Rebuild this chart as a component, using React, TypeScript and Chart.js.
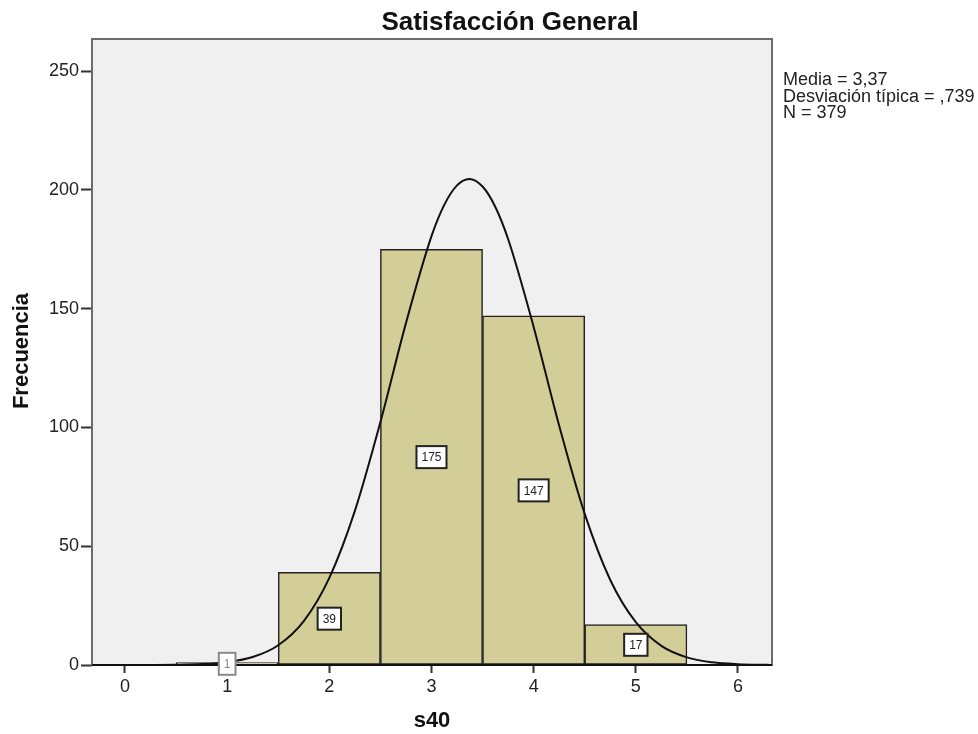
import { useEffect, useRef } from 'react';
import { Chart, registerables } from 'chart.js';

Chart.register(...registerables);

const binCenters = [1, 2, 3, 4, 5];
const frequencies = [1, 39, 175, 147, 17];
const curveX = [-0.3, 0, 0.25, 0.5, 0.75, 1, 1.25, 1.5, 1.75, 2, 2.25, 2.5, 2.75, 3, 3.125, 3.25, 3.37, 3.5, 3.625, 3.75, 4, 4.25, 4.5, 4.75, 5, 5.25, 5.5, 5.75, 6, 6.25, 6.3];
const curveY = [0, 0.01, 0.03, 0.11, 0.38, 1.19, 3.34, 8.32, 18.5, 36.7, 64.9, 102.3, 143.9, 180.5, 193.7, 201.9, 204.6, 201.4, 192.8, 179.3, 142.3, 100.7, 63.6, 35.8, 18.0, 8.04, 3.21, 1.14, 0.36, 0.1, 0.08];
const yTickStep = 50;
const xTickStep = 1;
const titleText = 'Satisfacción General';
const xTitle = 's40';
const yTitle = 'Frecuencia';
const statsLines = ['Media = 3,37', 'Desviación típica = ,739', 'N = 379'];

const FONT = '"Liberation Sans", Arial, sans-serif';

const decor = {
  id: 'decor',
  beforeDraw(chart: any) {
    const { ctx, chartArea: a } = chart;
    ctx.save();
    ctx.fillStyle = '#ffffff';
    ctx.fillRect(0, 0, chart.width, chart.height);
    ctx.fillStyle = '#f0f0f0';
    ctx.fillRect(a.left, a.top, a.right - a.left, a.bottom - a.top);
    ctx.restore();
  },
  afterDatasetsDraw(chart: any) {
    const { ctx, chartArea: a } = chart;
    const yScale = chart.scales.y;
    const meta = chart.getDatasetMeta(0);
    ctx.save();
    ctx.strokeStyle = '#6b6b6b';
    ctx.lineWidth = 2;
    ctx.strokeRect(a.left, a.top, a.right - a.left, a.bottom - a.top);
    ctx.strokeStyle = '#111';
    ctx.beginPath();
    ctx.moveTo(a.left, a.bottom);
    ctx.lineTo(a.right, a.bottom);
    ctx.stroke();
    ctx.font = `12px ${FONT}`;
    ctx.textAlign = 'center';
    ctx.textBaseline = 'middle';
    meta.data.forEach((bar: any, i: number) => {
      const v = frequencies[i];
      const label = String(v);
      const cx = bar.x;
      const cy = yScale.getPixelForValue(v / 2);
      const w = ctx.measureText(label).width + 10;
      const h = 22;
      const faint = v < 5;
      ctx.fillStyle = '#ffffff';
      ctx.fillRect(cx - w / 2, cy - h / 2, w, h);
      ctx.strokeStyle = faint ? '#8a8a8a' : '#222';
      ctx.lineWidth = 2;
      ctx.strokeRect(cx - w / 2, cy - h / 2, w, h);
      ctx.fillStyle = faint ? '#8a8a8a' : '#222';
      ctx.fillText(label, cx, cy + 1);
    });
    ctx.restore();
  },
  afterDraw(chart: any) {
    const { ctx, chartArea: a } = chart;
    ctx.save();
    ctx.fillStyle = '#111';
    ctx.textAlign = 'center';
    ctx.textBaseline = 'middle';
    ctx.font = `bold 26px ${FONT}`;
    ctx.fillText(titleText, 510, 23);
    ctx.font = `bold 22px ${FONT}`;
    ctx.fillText(xTitle, (a.left + a.right) / 2, 721);
    ctx.save();
    ctx.translate(22, 351);
    ctx.rotate(-Math.PI / 2);
    ctx.fillText(yTitle, 0, 0);
    ctx.restore();
    ctx.font = `18px ${FONT}`;
    ctx.textAlign = 'left';
    ctx.textBaseline = 'alphabetic';
    ctx.fillStyle = '#222';
    statsLines.forEach((s, i) => {
      ctx.fillText(s, 783, 85 + i * 16.5);
    });
    ctx.restore();
  },
};

export default function App() {
  const ref = useRef<HTMLCanvasElement | null>(null);
  useEffect(() => {
    if (!ref.current) return;
    const chart = new Chart(ref.current, {
      type: 'bar',
      data: {
        datasets: [
          {
            type: 'bar',
            data: binCenters.map((x, i) => ({ x, y: frequencies[i] })),
            backgroundColor: '#d3ce97',
            borderColor: '#222',
            borderWidth: 1.5,
            borderSkipped: false,
            barPercentage: 1,
            categoryPercentage: 1,
            order: 2,
          } as any,
          {
            type: 'line',
            data: curveX.map((x, i) => ({ x, y: curveY[i] })),
            borderColor: '#111',
            borderWidth: 2,
            pointRadius: 0,
            fill: false,
            cubicInterpolationMode: 'monotone',
            order: 1,
          } as any,
        ],
      },
      options: {
        responsive: false,
        animation: false,
        devicePixelRatio: 1,
        layout: { padding: { left: 0, top: 39, right: 206, bottom: 0 } },
        plugins: {
          legend: { display: false },
          title: { display: false },
          tooltip: { enabled: false },
        },
        scales: {
          x: {
            type: 'linear',
            min: -0.323,
            max: 6.333,
            offset: false,
            afterFit: (axis: any) => { axis.height = 69; },
            ticks: {
              stepSize: xTickStep,
              includeBounds: false,
              font: { family: FONT, size: 18 },
              color: '#222',
              padding: 3,
              maxRotation: 0,
            },
            grid: {
              display: true,
              offset: false,
              drawOnChartArea: false,
              drawTicks: true,
              tickLength: 8,
              tickColor: '#333',
              tickWidth: 2,
            },
            border: { display: false },
          },
          y: {
            type: 'linear',
            min: 0,
            max: 263.5,
            afterFit: (axis: any) => { axis.width = 92; },
            ticks: {
              stepSize: yTickStep,
              includeBounds: false,
              font: { family: FONT, size: 18 },
              color: '#222',
              padding: 2,
            },
            grid: {
              display: true,
              drawOnChartArea: false,
              drawTicks: true,
              tickLength: 11,
              tickColor: '#333',
              tickWidth: 2,
            },
            border: { display: false },
          },
        },
      } as any,
      plugins: [decor],
    });
    return () => chart.destroy();
  }, []);
  return (
    <div style={{ position: 'fixed', left: 0, top: 0, width: 978, height: 734 }}>
      <canvas ref={ref} width={978} height={734} style={{ width: 978, height: 734 }} />
    </div>
  );
}
